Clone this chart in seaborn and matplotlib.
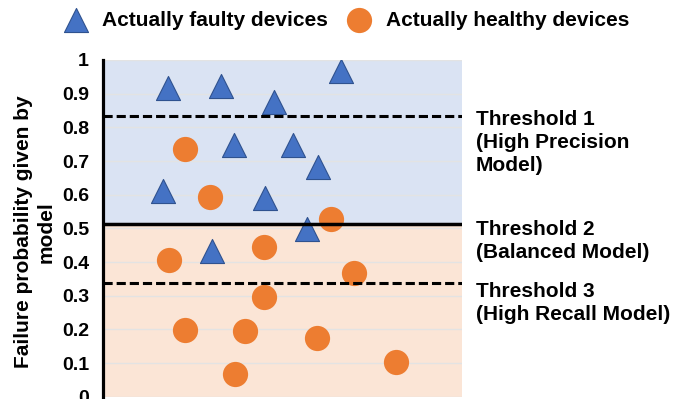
import numpy as np
import pandas as pd
import matplotlib
matplotlib.use("Agg")
import matplotlib.pyplot as plt
import seaborn as sns

# Data (x is just a spread position, 0-10)
faulty_x = [1.80, 3.29, 4.77, 6.62, 3.66, 5.28, 5.99, 1.67, 4.51, 5.69, 3.03]
faulty_y = [0.916, 0.923, 0.876, 0.968, 0.747, 0.748, 0.683, 0.612, 0.589, 0.497, 0.434]
healthy_x = [2.29, 2.99, 6.36, 4.48, 1.84, 6.98, 4.48, 2.29, 3.96, 5.95, 8.16, 3.69]
healthy_y = [0.737, 0.594, 0.528, 0.444, 0.407, 0.366, 0.297, 0.198, 0.195, 0.175, 0.103, 0.068]

thresholds = [0.835, 0.514, 0.339]
threshold_styles = ["dashed", "solid", "dashed"]
threshold_labels = ["Threshold 1\n(High Precision\nModel)",
                    "Threshold 2\n(Balanced Model)",
                    "Threshold 3\n(High Recall Model)"]
yticks = [0, 0.1, 0.2, 0.3, 0.4, 0.5, 0.6, 0.7, 0.8, 0.9, 1.0]
ytick_labels = ["0", "0.1", "0.2", "0.3", "0.4", "0.5", "0.6", "0.7", "0.8", "0.9", "1"]

faulty_df = pd.DataFrame({"x": faulty_x, "y": faulty_y})
healthy_df = pd.DataFrame({"x": healthy_x, "y": healthy_y})

sns.set_style("white")
plt.rcParams["font.family"] = ["Liberation Sans", "DejaVu Sans"]
plt.rcParams["font.weight"] = "bold"
plt.rcParams["text.color"] = "black"
plt.rcParams["axes.labelcolor"] = "black"
plt.rcParams["ytick.color"] = "black"

fig = plt.figure(figsize=(6.94, 3.99), dpi=100)
ax = fig.add_axes([103 / 694, 2.3 / 399, 359 / 694, 336.7 / 399])

# shaded regions above / below the balanced threshold
ax.axhspan(thresholds[1], 1.0, color="#DAE3F3", zorder=0, lw=0)
ax.axhspan(0, thresholds[1], color="#FBE5D6", zorder=0, lw=0)

sns.scatterplot(data=faulty_df, x="x", y="y", marker="^", s=300, color="#4472C4",
                edgecolor="#2F528F", linewidth=0.8, label="Actually faulty devices",
                ax=ax, zorder=3)
sns.scatterplot(data=healthy_df, x="x", y="y", marker="o", s=330, color="#ED7D31",
                edgecolor="#ED7D31", linewidth=0, label="Actually healthy devices",
                ax=ax, zorder=3)

for thr, style in zip(thresholds, threshold_styles):
    if style == "dashed":
        ax.axhline(thr, color="black", lw=2.2, ls=(0, (3.0, 1.3)), zorder=4)
    else:
        ax.axhline(thr, color="black", lw=2.5, zorder=4)

# threshold annotations to the right of the plot
text_offsets = [4.1, 2.7, 0.3]
for thr, lab, off in zip(thresholds, threshold_labels, text_offsets):
    ax.annotate(lab, xy=(1.0, thr), xycoords=("axes fraction", "data"),
                xytext=(10.1, off), textcoords="offset points",
                ha="left", va="top", fontsize=15, fontweight="bold", color="black",
                linespacing=1.27, annotation_clip=False)

ax.set_xlim(0, 10)
ax.set_ylim(0, 1)
ax.set_xticks([])
ax.set_yticks(yticks)
ax.set_yticklabels(ytick_labels, fontsize=14, fontweight="bold", color="black")
ax.tick_params(axis="y", length=0, pad=10)
ax.set_xlabel("")
ax.set_ylabel("Failure probability given by\nmodel", fontsize=15, fontweight="bold",
              color="black", linespacing=1.25)
ax.yaxis.set_label_coords(-0.132, 0.49)

ax.grid(axis="y", color="#E3E3E3", lw=1)
ax.set_axisbelow(True)
for side in ["top", "right", "bottom"]:
    ax.spines[side].set_visible(False)
ax.spines["left"].set_color("black")
ax.spines["left"].set_linewidth(2.3)

handles, labels = ax.get_legend_handles_labels()
if ax.get_legend() is not None:
    ax.get_legend().remove()
leg = fig.legend(handles, labels, loc="center left", bbox_to_anchor=(63 / 694, 1 - 20 / 399),
                 ncol=2, frameon=False, prop={"weight": "bold", "size": 15},
                 handlelength=1.2, handletextpad=0.69, columnspacing=0.87,
                 borderpad=0, borderaxespad=0)
for t in leg.get_texts():
    t.set_color("black")

fig.savefig("out.png", dpi=100)
